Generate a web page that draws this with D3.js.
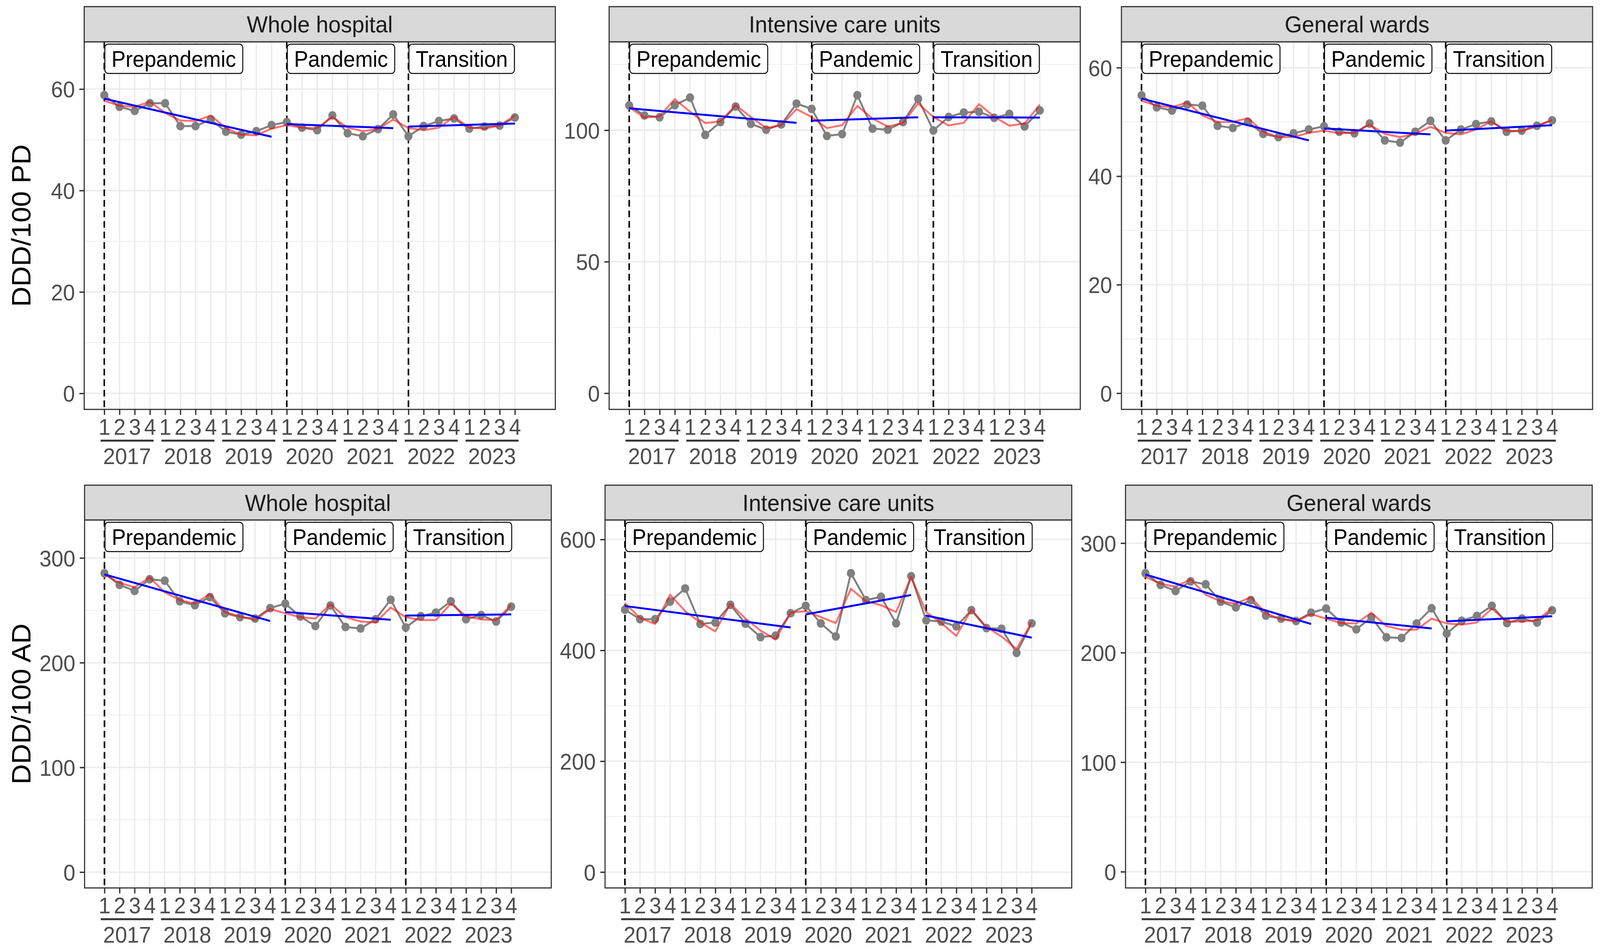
<!DOCTYPE html>
<html>
<head>
<meta charset="utf-8">
<script src="https://cdn.jsdelivr.net/npm/d3@7"></script>
<style>
  html, body { margin: 0; padding: 0; background: #fff; overflow: hidden; }
  svg { display: block; width: 100vw; height: 100vh; }
  text { font-family: "Liberation Sans", Arial, Helvetica, sans-serif; }
</style>
</head>
<body>
<svg id="chart"></svg>
<script>
"use strict";

// categories
const years = [2017, 2018, 2019, 2020, 2021, 2022, 2023];
const quarters = [1, 2, 3, 4];
const periods = ["Prepandemic", "Pandemic", "Transition"];
const periodFirst = [0, 12, 20];
const periodLast = [11, 19, 27];
const units = ["Whole hospital", "Intensive care units", "General wards"];
const measures = ["DDD/100 PD", "DDD/100 AD"];

// DDD/100 patient-days
const whPd = [58.8, 56.5, 55.7, 57.2, 57.2, 52.7, 52.7, 54.0, 51.6, 51.0, 51.7, 52.9, 53.5, 52.4, 51.9, 54.8, 51.3, 50.7, 52.1, 55.0, 50.7, 52.7, 53.7, 54.2, 52.2, 52.6, 52.8, 54.4];
const whPdFit = [57.7, 56.7, 56.5, 57.5, 55.3, 53.8, 53.7, 54.8, 52.3, 51.0, 50.9, 52.2, 52.9, 52.4, 52.3, 54.5, 52.4, 51.7, 52.1, 54.0, 52.3, 51.9, 52.4, 54.5, 52.4, 52.2, 52.8, 54.8];
const whPdTrend = [[58.1, 50.6], [53.1, 52.3], [52.6, 53.2]];

const icuPd = [109.4, 105.6, 104.9, 109.5, 112.4, 98.2, 103.1, 109.0, 102.4, 100.2, 102.2, 110.1, 108.1, 97.8, 98.5, 113.3, 100.6, 100.2, 103.1, 111.9, 99.9, 105.0, 106.7, 107.0, 104.7, 106.2, 101.4, 107.5];
const icuPdFit = [108.7, 104.8, 105.3, 111.8, 107.0, 102.7, 103.3, 109.5, 105.0, 100.8, 101.9, 108.0, 105.0, 100.8, 101.9, 109.2, 104.4, 101.4, 102.7, 110.2, 105.0, 101.8, 102.8, 109.9, 105.1, 101.7, 102.5, 109.7];
const icuPdTrend = [[108.3, 102.8], [103.6, 104.9], [104.9, 104.8]];

const gwPd = [54.9, 52.7, 52.1, 53.2, 53.0, 49.3, 48.9, 50.0, 47.8, 47.2, 47.9, 48.6, 49.2, 48.2, 47.9, 49.7, 46.6, 46.2, 48.2, 50.2, 46.6, 48.6, 49.6, 50.1, 48.2, 48.4, 49.3, 50.3];
const gwPdFit = [53.9, 53.0, 52.7, 53.6, 51.2, 50.0, 50.0, 50.7, 48.2, 47.2, 47.2, 48.0, 48.4, 47.9, 48.0, 49.5, 47.8, 47.2, 47.8, 49.1, 48.0, 47.7, 48.6, 50.1, 48.4, 48.3, 49.2, 50.4];
const gwPdTrend = [[54.3, 46.6], [48.8, 47.7], [48.4, 49.4]];

// DDD/100 admissions
const whAd = [285.4, 274.3, 268.6, 279.7, 278.3, 258.6, 254.9, 262.6, 247.2, 243.5, 242.1, 252.1, 256.4, 244.1, 235.0, 254.6, 234.1, 232.7, 241.5, 260.1, 233.6, 244.4, 247.8, 258.6, 241.5, 245.5, 239.3, 253.5];
const whAdFit = [284.0, 276.3, 272.0, 281.4, 267.2, 259.8, 256.4, 265.5, 248.4, 244.1, 240.7, 251.2, 247.2, 243.5, 242.1, 255.8, 243.5, 239.3, 238.4, 252.7, 243.5, 240.7, 240.7, 256.4, 244.4, 241.3, 240.7, 255.0];
const whAdTrend = [[284.3, 239.8], [248.4, 241.0], [245.0, 246.1]];

const icuAd = [473.4, 456.2, 456.2, 488.0, 511.6, 447.6, 450.3, 482.1, 448.2, 423.9, 426.6, 467.0, 480.4, 448.7, 425.0, 539.1, 490.6, 496.6, 448.7, 533.7, 454.1, 451.9, 443.3, 472.4, 440.1, 439.0, 395.4, 448.7];
const icuAdFit = [485.3, 458.4, 447.6, 500.3, 470.7, 450.3, 434.2, 484.2, 457.3, 435.8, 419.6, 468.1, 470.7, 460.0, 449.2, 511.1, 488.5, 481.5, 469.1, 532.6, 469.1, 449.2, 426.1, 473.4, 442.2, 425.0, 402.4, 450.8];
const icuAdTrend = [[479.9, 441.2], [464.8, 499.8], [462.7, 422.9]];

const gwAd = [272.5, 261.9, 256.4, 265.1, 262.4, 246.6, 241.4, 248.0, 233.8, 231.1, 228.9, 236.5, 240.3, 227.6, 221.3, 232.2, 214.0, 213.4, 226.7, 240.6, 217.5, 229.2, 233.5, 242.8, 227.0, 231.1, 227.6, 238.7];
const gwAdFit = [269.2, 263.0, 260.2, 267.0, 252.9, 246.9, 244.7, 250.7, 236.0, 230.5, 228.4, 235.2, 231.1, 227.0, 226.7, 236.5, 224.3, 221.0, 221.0, 231.1, 226.7, 225.6, 227.6, 240.3, 228.4, 228.4, 229.7, 240.6];
const gwAdTrend = [[271.4, 226.2], [231.9, 222.1], [228.6, 233.3]];

// y ticks and axis limits
const pdTicks = [[0, 20, 40, 60], [0, 50, 100], [0, 20, 40, 60]];
const adTicks = [[0, 100, 200, 300], [0, 200, 400, 600], [0, 100, 200, 300]];
const pdLimits = [[-3.16, 69.32], [-6.15, 133.6], [-2.98, 64.77]];
const adLimits = [[-15.1, 336.3], [-28.6, 635.2], [-14.8, 321.2]];
const xLimits = [-1.32, 29.66];

const W = 4313, H = 2437;
const grid = "#ebebeb", dark = "#333333", axisText = "#4d4d4d";
const axisSize = 58, stripSize = 60, labelSize = 57;

const rows = [
  { stripTop: 17, top: 107, bottom: 1048, lefts: [227, 1642, 3023], width: 1270 },
  { stripTop: 1242, top: 1331, bottom: 2273, lefts: [228, 1631, 3034], width: 1258 }
];

const panels = [
  { row: 0, col: 0, obs: whPd, fit: whPdFit, trend: whPdTrend, ticks: pdTicks[0], lim: pdLimits[0] },
  { row: 0, col: 1, obs: icuPd, fit: icuPdFit, trend: icuPdTrend, ticks: pdTicks[1], lim: pdLimits[1] },
  { row: 0, col: 2, obs: gwPd, fit: gwPdFit, trend: gwPdTrend, ticks: pdTicks[2], lim: pdLimits[2] },
  { row: 1, col: 0, obs: whAd, fit: whAdFit, trend: whAdTrend, ticks: adTicks[0], lim: adLimits[0] },
  { row: 1, col: 1, obs: icuAd, fit: icuAdFit, trend: icuAdTrend, ticks: adTicks[1], lim: adLimits[1] },
  { row: 1, col: 2, obs: gwAd, fit: gwAdFit, trend: gwAdTrend, ticks: adTicks[2], lim: adLimits[2] }
];

const svg = d3.select("#chart")
  .attr("viewBox", `0 0 ${W} ${H}`)
  .attr("preserveAspectRatio", "none");
svg.append("rect").attr("width", W).attr("height", H).attr("fill", "#fff");

const idx = d3.range(years.length * quarters.length);

panels.forEach((p) => {
  const row = rows[p.row];
  const left = row.lefts[p.col];
  const right = left + row.width;
  const x = d3.scaleLinear().domain(xLimits).range([left, right]);
  const y = d3.scaleLinear().domain(p.lim).range([row.bottom, row.top]);
  const g = svg.append("g");

  const step = p.ticks[1] - p.ticks[0];
  const minor = p.ticks.map((t) => t + step / 2).filter((t) => t < p.lim[1]);

  // grid
  g.append("g").selectAll("line").data(minor).join("line")
    .attr("x1", left).attr("x2", right)
    .attr("y1", (d) => y(d)).attr("y2", (d) => y(d))
    .attr("stroke", grid).attr("stroke-width", 1.8);
  g.append("g").selectAll("line").data(p.ticks).join("line")
    .attr("x1", left).attr("x2", right)
    .attr("y1", (d) => y(d)).attr("y2", (d) => y(d))
    .attr("stroke", grid).attr("stroke-width", 3.5);
  g.append("g").selectAll("line").data(idx).join("line")
    .attr("x1", (d) => x(d)).attr("x2", (d) => x(d))
    .attr("y1", row.top).attr("y2", row.bottom)
    .attr("stroke", grid).attr("stroke-width", 3.5);

  // period boundaries
  g.append("g").selectAll("line").data(periodFirst).join("line")
    .attr("x1", (d) => x(d)).attr("x2", (d) => x(d))
    .attr("y1", row.top).attr("y2", row.bottom)
    .attr("stroke", "#000").attr("stroke-width", 4.2)
    .attr("stroke-dasharray", "17,10");

  // observed series
  const line = d3.line().x((d, i) => x(i)).y((d) => y(d));
  g.append("path").datum(p.obs).attr("d", line)
    .attr("fill", "none").attr("stroke", "#808080").attr("stroke-width", 5)
    .attr("stroke-linejoin", "round");
  g.append("g").selectAll("circle").data(p.obs).join("circle")
    .attr("cx", (d, i) => x(i)).attr("cy", (d) => y(d)).attr("r", 11)
    .attr("fill", "#808080");

  // fitted model
  g.append("path").datum(p.fit).attr("d", line)
    .attr("fill", "none").attr("stroke", "#ff0000").attr("stroke-opacity", 0.55)
    .attr("stroke-width", 5).attr("stroke-linejoin", "round");

  // segment trends
  g.append("g").selectAll("line").data(p.trend).join("line")
    .attr("x1", (d, k) => x(periodFirst[k])).attr("x2", (d, k) => x(periodLast[k]))
    .attr("y1", (d) => y(d[0])).attr("y2", (d) => y(d[1]))
    .attr("stroke", "#0000ff").attr("stroke-width", 5);

  // period labels
  const lab = g.append("g").selectAll("g").data(periods).join("g");
  lab.append("rect");
  lab.append("text")
    .attr("x", (d, k) => x(periodFirst[k]) + 19.5)
    .attr("y", row.top + 64)
    .attr("font-size", labelSize).attr("fill", "#000")
    .text((d) => d);
  lab.each(function (d, k) {
    const t = d3.select(this).select("text");
    const w = t.node().getComputedTextLength();
    d3.select(this).select("rect")
      .attr("x", x(periodFirst[k]) + 1.5).attr("y", row.top + 6)
      .attr("width", w + 36).attr("height", 75)
      .attr("rx", 9).attr("ry", 9)
      .attr("fill", "#fff").attr("stroke", "#000").attr("stroke-width", 2.5);
  });

  // panel border
  g.append("rect").attr("x", left).attr("y", row.top)
    .attr("width", row.width).attr("height", row.bottom - row.top)
    .attr("fill", "none").attr("stroke", dark).attr("stroke-width", 3);

  // strip
  g.append("rect").attr("x", left).attr("y", row.stripTop)
    .attr("width", row.width).attr("height", row.top - row.stripTop)
    .attr("fill", "#d9d9d9").attr("stroke", dark).attr("stroke-width", 3);
  g.append("text").attr("x", (left + right) / 2)
    .attr("y", (row.stripTop + row.top) / 2 + 0.358 * stripSize)
    .attr("text-anchor", "middle").attr("font-size", stripSize).attr("fill", "#1a1a1a")
    .text(units[p.col]);

  // y axis
  const ya = g.append("g").attr("transform", `translate(${left},0)`)
    .call(d3.axisLeft(y).tickValues(p.ticks).tickSize(13).tickPadding(12));
  ya.select(".domain").remove();
  ya.selectAll("line").attr("stroke", dark).attr("stroke-width", 3.5);
  ya.selectAll("text").attr("font-size", axisSize).attr("fill", axisText)
    .attr("font-family", null).attr("dy", "0.36em");

  // x axis: quarters
  const xa = g.append("g").attr("transform", `translate(0,${row.bottom})`)
    .call(d3.axisBottom(x).tickValues(idx).tickFormat((i) => quarters[i % 4])
      .tickSize(14).tickPadding(10));
  xa.select(".domain").remove();
  xa.selectAll("line").attr("stroke", dark).attr("stroke-width", 3.5);
  xa.selectAll("text").attr("font-size", axisSize).attr("fill", axisText).attr("font-family", null);

  // x axis: years
  const yr = g.append("g").selectAll("g").data(years).join("g");
  yr.append("line")
    .attr("x1", (d, j) => x(j * 4) - 10).attr("x2", (d, j) => x(j * 4 + 3) + 10)
    .attr("y1", row.bottom + 80).attr("y2", row.bottom + 80)
    .attr("stroke", dark).attr("stroke-width", 5);
  yr.append("text")
    .attr("x", (d, j) => (x(j * 4) + x(j * 4 + 3)) / 2)
    .attr("y", row.bottom + 140)
    .attr("text-anchor", "middle").attr("font-size", axisSize).attr("fill", axisText)
    .text((d) => d);

  // y title
  if (p.col === 0) {
    const cy = (row.top + row.bottom) / 2;
    g.append("text").attr("x", 82).attr("y", cy)
      .attr("transform", `rotate(-90,82,${cy})`)
      .attr("text-anchor", "middle").attr("font-size", 72).attr("fill", "#000")
      .text(measures[p.row]);
  }
});
</script>
</body>
</html>
